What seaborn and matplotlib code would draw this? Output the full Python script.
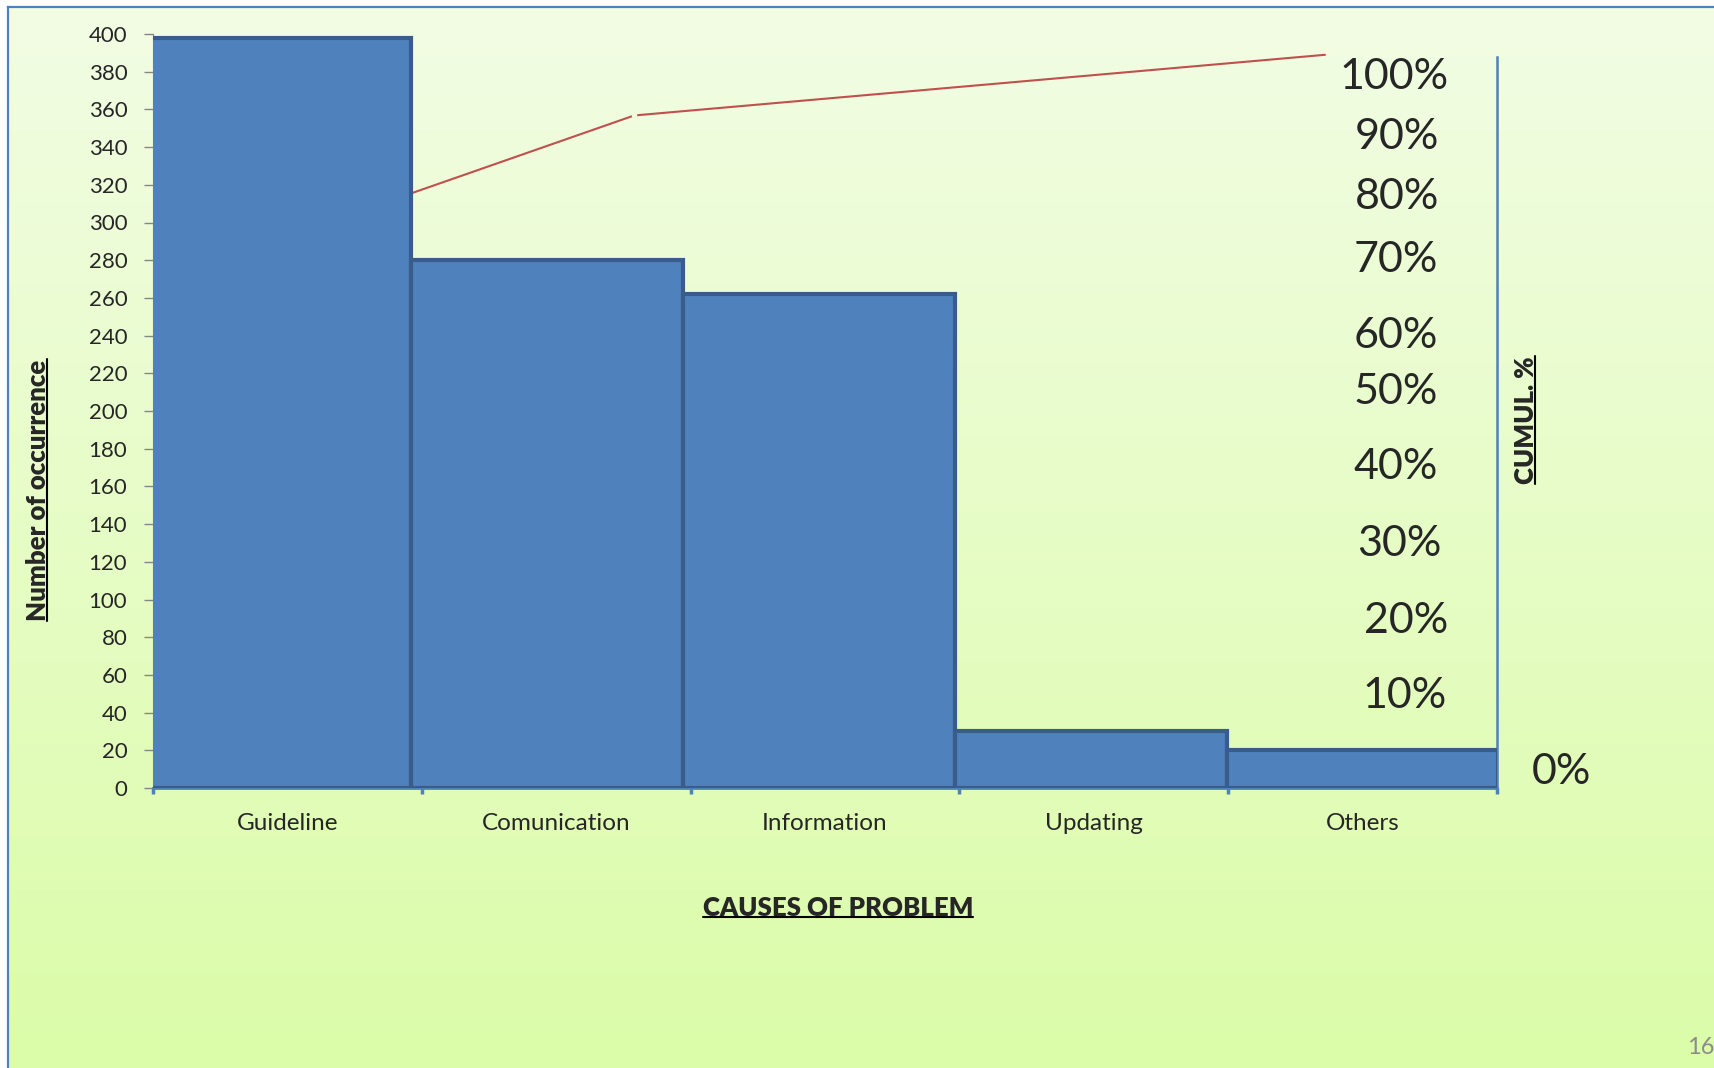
import numpy as np
import matplotlib
matplotlib.use("Agg")
import matplotlib.pyplot as plt
import seaborn as sns
from matplotlib.lines import Line2D
from matplotlib.transforms import IdentityTransform

# data
causes = ["Guideline", "Comunication", "Information", "Updating", "Others"]
occurrences = [398, 280, 262, 30, 20]
# cumulative % line (as drawn in the original, partly hidden behind first bar)
cumul_x = [0.2, 1.29, 3.86]
cumul_pct = [78, 92, 100.3]
pct_labels = ["100%", "90%", "80%", "70%", "60%", "50%", "40%", "30%", "20%", "10%", "0%"]

W, H = 1715, 1068
sns.set_style("white")
plt.rcParams['font.family'] = ['Lato', 'DejaVu Sans']

fig = plt.figure(figsize=(W / 100, H / 100), dpi=100)
fig.patch.set_facecolor("white")

# gradient slide background with blue frame
bg = fig.add_axes([8 / W, 0, 1 - 8 / W, (H - 7) / H])
grad = np.linspace(0, 1, 256)[:, None]
top = np.array([242, 253, 228]) / 255
bot = np.array([219, 252, 168]) / 255
img = top[None, None, :] * (1 - grad[:, :, None]) + bot[None, None, :] * grad[:, :, None]
bg.imshow(img, aspect="auto", extent=[0, 1, 0, 1])
bg.set_xticks([])
bg.set_yticks([])
for s in ["right", "bottom"]:
    bg.spines[s].set_visible(False)
for s in ["left", "top"]:
    bg.spines[s].set_color("#4F81BD")
    bg.spines[s].set_linewidth(1.6)

# main bar chart
ax = fig.add_axes([153 / W, 280 / H, (1497 - 153) / W, (788 - 34) / H])
ax.patch.set_visible(False)
sns.barplot(x=causes, y=occurrences, ax=ax, color="#4F81BD", saturation=1,
            width=1.01, edgecolor="#385D8A", linewidth=3, zorder=3)
# excel-like overlap: bars drift a little left of their slots
n = len(ax.patches)
for i, p in enumerate(ax.patches):
    p.set_x(p.get_x() - 0.045 * (1 - i / (n - 1)))
ax.set_xlim(-0.5, 4.5)
ax.set_ylim(0, 400)
ax.set_yticks(range(0, 401, 20))
ax.set_xlabel("")
ax.set_ylabel("")
ax.spines["top"].set_visible(False)
ax.spines["right"].set_visible(False)
ax.spines["left"].set_color("#868686")
ax.spines["bottom"].set_color("#4F81BD")
ax.spines["bottom"].set_linewidth(2)
ax.tick_params(axis="y", direction="out", length=6.5, width=1, color="#868686",
               pad=12, labelsize=16, left=True)
ax.tick_params(axis="x", which="major", length=0, pad=18, labelsize=17.5)
ax.set_xticks(np.arange(-0.5, 5, 1), minor=True)
ax.tick_params(axis="x", which="minor", direction="out", length=4, width=2.5,
               color="#4F81BD", bottom=True)

# secondary axis for cumulative %
ax2 = ax.twinx()
ax2.set_ylim(0, 100 / 0.9695)
ax2.plot(cumul_x, cumul_pct, color="#C0504D", lw=1.5)
ax2.plot(cumul_x[1:2], cumul_pct[1:2], marker="o", ms=4, mfc="#EFFCDA", mec="none", ls="none")
ax2.set_yticks([])
for s in ["left", "top", "bottom"]:
    ax2.spines[s].set_visible(False)
ax2.spines["right"].set_color("#4F81BD")
ax2.spines["right"].set_linewidth(1.8)
ax2.spines["right"].set_bounds(0, 100)
ax.set_zorder(ax2.get_zorder() + 1)

# hand-placed percentage labels, as in the slide
pct_pos = [(1394, 77), (1397, 137), (1397, 197), (1396, 260), (1396, 336),
           (1396, 392), (1396, 467), (1399, 544), (1406, 621), (1405, 696),
           (1561, 772)]
for lab, (px, py) in zip(pct_labels, pct_pos):
    fig.text(px / W, 1 - py / H, lab, ha="center", va="center", fontsize=31)

# underlined bold titles
titles = [
    ("Number of occurrence", 38, 490, 90),
    ("CAUSES OF PROBLEM", 838, 908, 0),
    ("CUMUL. %", 1526, 420, 90),
]
texts = []
for s, px, py, rot in titles:
    t = fig.text(px / W, 1 - py / H, s, ha="center", va="center", rotation=rot,
                 fontsize=18.5, fontweight="heavy")
    texts.append((t, rot))

fig.text(1687 / W, 1 - 1047 / H, "16", ha="left", va="center", fontsize=17,
         color="#8C8C8C")

fig.canvas.draw()
r = fig.canvas.get_renderer()
for t, rot in texts:
    bb = t.get_window_extent(r)
    if rot == 0:
        y = bb.y0 + 3
        fig.add_artist(Line2D([bb.x0, bb.x1], [y, y], color="black", lw=1.5,
                              transform=IdentityTransform()))
    else:
        x = bb.x1 - 3
        fig.add_artist(Line2D([x, x], [bb.y0, bb.y1], color="black", lw=1.5,
                              transform=IdentityTransform()))

fig.savefig("out.png", dpi=100)
